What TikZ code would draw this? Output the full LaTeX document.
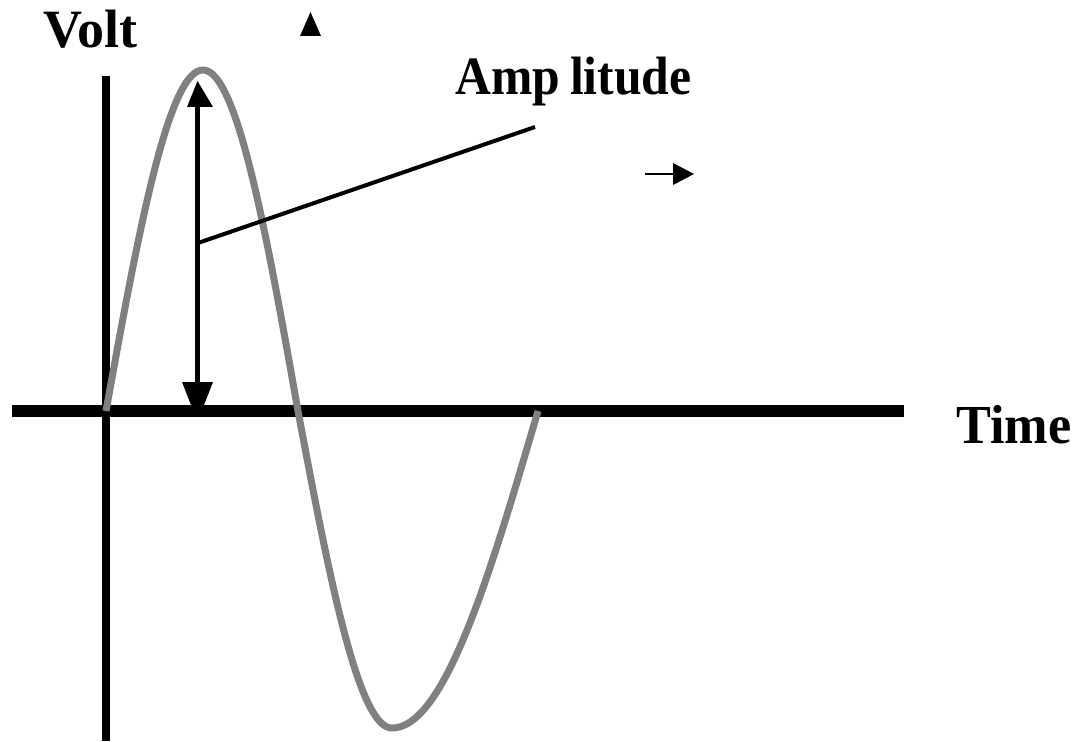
\documentclass[tikz,border=0pt]{standalone}
\usepackage{fontspec}
\newfontfamily\labfont{Liberation Serif Bold}
\newfontfamily\ampfont[FakeStretch=0.92]{Liberation Serif Bold}
\newfontfamily\timefont[FakeStretch=0.95]{Liberation Serif Bold}
\tikzset{
  axis/.style={draw=black, line width=#1},
  wave/.style={draw=wavegray, line width=7pt, line join=round},
  arrline/.style={draw=black, line width=5pt},
  leader/.style={draw=black, line width=4pt},
  thinarr/.style={draw=black, line width=2pt},
  head/.style={fill=black, draw=none},
  lab/.style={inner sep=0pt, anchor=base west, font=\labfont\fontsize{#1}{#1}\selectfont},
  amplab/.style={inner sep=0pt, anchor=base west, font=\ampfont\fontsize{#1}{#1}\selectfont},
  timelab/.style={inner sep=0pt, anchor=base west, font=\timefont\fontsize{#1}{#1}\selectfont}
}
\definecolor{wavegray}{RGB}{128,128,128}
\begin{document}
\begin{tikzpicture}[x=1pt,y=-1pt]
\useasboundingbox[fill=white] (0,0) rectangle (1078,741);
% axes
\coordinate (xl) at (12,411);
\coordinate (xr) at (904,411);
\coordinate (yt) at (106,76);
\coordinate (yb) at (106,741);
\draw[axis=12pt] (xl) -- (xr);
\draw[axis=8pt] (yt) -- (yb);
% wave
\draw[wave] plot[domain=0:90,samples=40] ({106+97*\x/90},{411-341*sin(\x)})
 -- plot[domain=0:90,samples=40] ({203+95*\x/90},{411-341*cos(\x)})
 -- plot[domain=0:90,samples=40] ({298+94*\x/90},{411+317*sin(\x)})
 -- plot[domain=0:90,samples=40] ({392+146*\x/90},{411+317*cos(\x)});
% amplitude double arrow
\coordinate (at) at (197.5,100);
\coordinate (ab) at (197.5,385);
\draw[arrline] (at) -- (ab);
\fill[head] (197.5,81) -- (213,107) -- (187,107) -- cycle;
\fill[head] (182,382) -- (213,382) -- (204,405) -- (191,405) -- cycle;
% leader line
\coordinate (l1) at (198,243);
\coordinate (l2) at (535,127);
\draw[leader] (l1) -- (l2);
% small arrows
\fill[head] (300,36) -- (321,36) -- (310.5,12) -- cycle;
\coordinate (r1) at (645,174);
\coordinate (r2) at (676,174);
\draw[thinarr] (r1) -- (r2);
\fill[head] (673,163) -- (694,174) -- (673,185) -- cycle;
% labels
\node[lab=54] (volt) at (43,48) {Volt};
\node[amplab=54] (amp) at (455,95) {Amp\kern10pt litude};
\node[timelab=55] (time) at (956,443) {Time};
\end{tikzpicture}
\end{document}
